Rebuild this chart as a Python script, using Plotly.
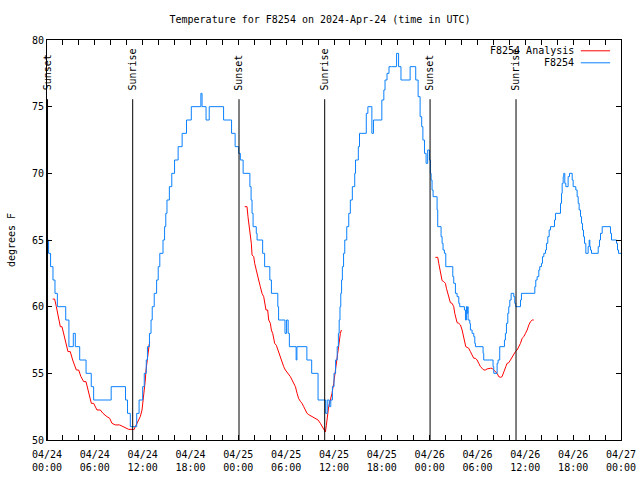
import pandas as pd
import plotly.graph_objects as go

BASE = pd.Timestamp("2024-04-24 00:00")

# Observed station temperature (hours since 04/24 00:00 UTC, deg F)
obs_hours = [
    0.00, 0.20, 0.45, 0.75, 1.00, 1.30, 2.35, 2.75, 3.30, 3.55, 4.10, 4.90, 5.55, 5.85,
    8.05, 9.85, 10.10, 10.45, 11.25, 11.55, 12.00, 12.20, 12.45, 12.60, 12.85, 13.05,
    13.20, 13.45, 13.75, 13.95, 14.15, 14.55, 14.75, 14.90, 15.05, 15.35, 15.65, 16.00,
    16.45, 16.95, 17.50, 18.10, 19.30, 19.45, 19.95, 20.35, 22.15, 23.15, 23.60,
    24.05, 24.25, 24.60, 25.45, 25.60, 25.72, 25.85, 26.25, 26.35, 27.05, 27.30, 27.95,
    28.15, 28.95, 29.05, 29.85, 30.05, 30.25, 30.40, 31.25, 31.35, 32.60, 33.20, 34.00,
    34.95, 35.15, 35.40, 35.60, 35.80, 36.00, 36.20, 36.40, 36.55, 36.65,
    36.75, 36.85, 36.95, 37.05, 37.20, 37.35, 37.60, 37.85, 38.05, 38.30, 38.60, 38.70,
    39.05, 39.20, 40.05, 40.25, 40.75, 40.95, 41.25, 42.00, 42.25, 42.40, 42.65, 42.90,
    43.20, 43.85, 44.10, 44.40, 44.75, 45.55, 46.25, 46.55, 46.80, 47.00, 47.15, 47.35,
    47.55, 47.75, 47.97, 48.09, 48.18, 48.30, 48.43, 48.93, 49.01, 49.43, 49.56, 49.68,
    49.85, 50.02, 50.90, 51.02, 51.23, 51.44, 51.65, 51.77, 52.36, 52.49, 52.61, 52.69,
    52.78, 52.82, 53.03, 53.11, 53.32, 53.53, 53.66, 53.74, 54.70, 54.78, 55.95, 56.04,
    56.46, 56.58, 56.79, 57.38, 57.50, 57.63, 57.80, 57.92, 58.05, 58.22, 58.55, 58.68,
    58.80, 59.39, 59.51, 61.19, 61.31, 61.48, 61.69, 61.81, 62.02, 62.15, 62.32, 62.53,
    62.65, 62.82, 62.99, 63.15, 63.66, 63.78, 64.41, 64.54, 64.62, 64.75, 64.82, 64.95,
    65.08, 65.37, 65.54, 65.88, 66.00, 66.33, 66.50, 66.63, 66.75, 66.92, 67.05, 67.17,
    67.30, 67.42, 67.59, 67.88, 68.01, 68.09, 68.17, 68.30, 69.14, 69.30, 69.43, 69.64,
    70.68, 70.81, 71.44, 71.56, 71.69, 72.00,
]
obs_temps = [
    65, 64, 63, 62, 61, 60, 59, 57, 58, 57, 56, 55, 54, 53,
    54, 53, 52, 51, 52, 53, 54, 55, 56, 57, 58, 59,
    60, 61, 62, 63, 64, 65, 66, 67, 68, 69, 70, 71,
    72, 73, 74, 75, 76, 75, 74, 75, 74, 73, 72,
    71.5, 71, 70, 69, 68, 67, 66, 65.5, 65, 64, 63, 62,
    61, 60, 59, 58, 59, 58, 57, 56, 57, 56, 55, 53,
    52, 53, 52.5, 53, 54, 55, 56, 57, 58, 59,
    60, 61, 62, 63, 64, 65, 66, 67, 68, 69, 70, 71,
    72, 73, 74.5, 75, 73, 74, 74, 75.5, 76.25, 77, 77.5, 78,
    78, 79, 78, 77, 77, 78, 77, 75.75, 74.25, 73.5, 72.5, 71.5,
    70.75, 71.75, 71, 70, 69.5, 68.75, 68.25, 67.25, 66, 65.25, 64.75, 64.25,
    64, 63, 62.25, 61.75, 61, 60.75, 60.25, 60, 59.75, 59, 60, 59.5,
    60, 59, 58.75, 58.25, 58, 57.75, 57.25, 57, 56.5, 56, 55.5, 55,
    55.75, 56, 57, 57.5, 58, 58.75, 59.5, 60, 60.5, 61, 60.75, 60.25,
    60, 60.5, 61, 61.5, 62, 62.25, 62.75, 63, 63.25, 63.75, 64, 64.25,
    64.75, 65.25, 65.75, 66, 66.5, 67, 67.75, 68.5, 69.25, 69.75, 70, 69.25,
    69, 69.75, 70, 69.5, 69, 68.75, 68.25, 67.75, 67.25, 66.75, 66.25, 65.75,
    65.25, 64.75, 64, 64.5, 65, 64.5, 64.25, 64, 64.5, 65, 65.5, 66,
    65.5, 65, 64.75, 64.25, 64, 64,
]

# Analysis temperature (three separate runs)
ana1_hours = [0.71, 0.96, 1.17, 1.38, 1.67, 1.88, 2.09, 2.34, 2.63, 2.92, 3.22, 3.68, 3.97, 4.26,
              4.60, 4.89, 5.22, 5.56, 5.85, 6.27, 6.69, 7.02, 7.52, 7.86, 8.15, 8.57, 9.11, 9.41,
              9.82, 10.24, 10.79, 10.87, 11.08, 11.37, 11.70, 11.92, 12.08, 12.20, 12.33, 12.42,
              12.55, 12.67, 12.83, 12.90]
ana1_temps = [60.57, 60.57, 60.0, 59.25, 58.5, 58.5, 58.0, 57.25, 56.63, 56.63, 56.0, 55.25, 55.25, 54.75,
              54.38, 54.38, 53.63, 52.75, 52.75, 52.25, 52.25, 52.0, 51.75, 51.63, 51.25, 51.13, 51.13, 51.05,
              50.95, 50.8, 50.8, 50.75, 51.0, 51.38, 51.75, 52.25, 53.0, 53.75, 54.5, 55.25,
              56.0, 56.5, 57.2, 57.3]
ana2_hours = [24.80, 25.09, 25.21, 25.38, 25.50, 25.63, 25.72, 25.93, 26.05, 26.22, 26.39, 26.55, 26.76,
              26.97, 27.18, 27.31, 27.47, 27.68, 27.81, 28.02, 28.14, 28.31, 28.44, 28.56, 28.77, 28.98,
              29.19, 29.40, 29.69, 29.90, 30.24, 30.53, 30.74, 30.95, 31.16, 31.37, 31.57, 31.78, 31.99,
              32.20, 32.41, 32.62, 32.83, 33.25, 33.67, 34.00, 34.29, 34.50, 34.71, 34.92, 35.04, 35.17,
              35.33, 35.54, 35.75, 35.96, 36.17, 36.30, 36.51, 36.67, 36.80, 36.93]
ana2_temps = [67.5, 67.5, 66.75, 66.0, 65.25, 64.75, 63.88, 63.75, 63.25, 62.75, 62.25, 62.0, 61.5,
              61.0, 60.75, 60.25, 59.75, 59.75, 59.0, 58.75, 58.25, 58.0, 57.5, 57.25, 57.1, 56.75,
              56.25, 56.0, 55.5, 55.25, 55.0, 54.75, 54.5, 54.25, 54.0, 53.5, 53.1, 52.9, 52.75,
              52.5, 52.25, 52.0, 51.9, 51.75, 51.6, 51.5, 51.25, 51.0, 50.75, 50.6, 51.1, 51.75,
              52.5, 53.0, 53.5, 54.25, 55.25, 55.75, 56.75, 57.5, 58.0, 58.25]
ana3_hours = [48.72, 49.01, 49.14, 49.26, 49.43, 49.56, 49.77, 49.98, 50.10, 50.27, 50.44, 50.60, 50.81,
              51.02, 51.15, 51.27, 51.44, 51.65, 51.86, 52.07, 52.20, 52.36, 52.53, 52.69, 52.90, 53.11,
              53.32, 53.53, 53.74, 53.95, 54.16, 54.37, 54.58, 54.78, 54.99, 55.20, 55.62, 55.83, 56.04,
              56.25, 56.46, 56.67, 56.88, 57.08, 57.21, 57.38, 57.55, 57.71, 57.92, 58.13, 58.34, 58.55,
              58.76, 58.97, 59.18, 59.39, 59.60, 59.81, 60.02, 60.23, 60.44, 60.65, 60.86, 61.06]
ana3_temps = [63.7, 63.7, 63.25, 62.88, 62.38, 61.95, 61.88, 61.75, 61.38, 61.0, 60.63, 60.3, 60.25,
              60.0, 59.5, 59.13, 58.8, 58.75, 58.63, 58.25, 57.88, 57.5, 57.0, 56.95, 56.88, 56.63,
              56.38, 56.13, 56.13, 56.0, 55.75, 55.5, 55.38, 55.25, 55.25, 55.33, 55.38, 55.38, 55.25,
              55.13, 55.0, 54.75, 54.7, 54.75, 55.0, 55.25, 55.5, 55.75, 55.8, 56.0, 56.25, 56.5,
              56.63, 56.75, 57.0, 57.25, 57.63, 57.75, 58.0, 58.25, 58.63, 58.88, 59.0, 59.0]

sun_times = ["2024-04-24 00:04", "2024-04-24 10:45", "2024-04-25 00:05",
             "2024-04-25 10:50", "2024-04-26 00:03", "2024-04-26 10:50"]
sun_labels = ["Sunset", "Sunrise", "Sunset", "Sunrise", "Sunset", "Sunrise"]

x_tick_vals = ["2024-04-24 00:00", "2024-04-24 06:00", "2024-04-24 12:00", "2024-04-24 18:00",
               "2024-04-25 00:00", "2024-04-25 06:00", "2024-04-25 12:00", "2024-04-25 18:00",
               "2024-04-26 00:00", "2024-04-26 06:00", "2024-04-26 12:00", "2024-04-26 18:00",
               "2024-04-27 00:00"]
x_tick_text = ["04/24<br>00:00", "04/24<br>06:00", "04/24<br>12:00", "04/24<br>18:00",
               "04/25<br>00:00", "04/25<br>06:00", "04/25<br>12:00", "04/25<br>18:00",
               "04/26<br>00:00", "04/26<br>06:00", "04/26<br>12:00", "04/26<br>18:00",
               "04/27<br>00:00"]

def to_time(hours):
    return [BASE + pd.Timedelta(hours=h) if h is not None else None for h in hours]

ana_hours = ana1_hours + [None] + ana2_hours + [None] + ana3_hours
ana_temps = ana1_temps + [None] + ana2_temps + [None] + ana3_temps

FONT = "DejaVu Sans Mono"
RED = "#ff0000"
BLUE = "#0a80ff"

fig = go.Figure()
fig.add_trace(go.Scatter(x=to_time(ana_hours), y=ana_temps, mode="lines",
                         line=dict(color=RED, width=1), name="F8254 Analysis",
                         connectgaps=False, showlegend=False))
fig.add_trace(go.Scatter(x=to_time(obs_hours), y=obs_temps, mode="lines",
                         line=dict(color=BLUE, width=1, shape="hv"), name="F8254",
                         showlegend=False))

shapes = []
annotations = []
for t, lab in zip(sun_times, sun_labels):
    shapes.append(dict(type="line", xref="x", yref="paper", x0=t, x1=t, y0=0, y1=0.852,
                       line=dict(color="black", width=1)))
    annotations.append(dict(x=t, xref="x", y=0.868, yref="paper", text=lab, showarrow=False,
                            textangle=-90, xanchor="center", yanchor="bottom",
                            font=dict(family=FONT, size=10, color="black")))

# legend (text left of sample, gnuplot style)
legend_items = [("F8254 Analysis", RED, 0.973), ("F8254", BLUE, 0.943)]
for name, col, yy in legend_items:
    annotations.append(dict(x=0.922, xref="paper", y=yy, yref="paper", text=name, showarrow=False,
                            xanchor="right", yanchor="middle",
                            font=dict(family=FONT, size=10, color="black")))
    shapes.append(dict(type="line", xref="paper", yref="paper", x0=0.93, x1=0.981, y0=yy, y1=yy,
                       line=dict(color=col, width=1)))

fig.update_layout(
    width=640, height=480,
    margin=dict(l=47, r=19, t=40, b=40, autoexpand=False),
    paper_bgcolor="white", plot_bgcolor="white",
    font=dict(family=FONT, size=10, color="black"),
    title=dict(text="Temperature for F8254 on 2024-Apr-24 (time in UTC)", x=0.5, xanchor="center",
               y=0.96, yanchor="middle", font=dict(family=FONT, size=10, color="black")),
    shapes=shapes, annotations=annotations,
    showlegend=False,
)
fig.update_xaxes(type="date", range=[x_tick_vals[0], x_tick_vals[-1]], automargin=False,
                 tickmode="array", tickvals=x_tick_vals, ticktext=x_tick_text,
                 ticks="inside", ticklen=5, tickcolor="black", showline=True, linecolor="black",
                 linewidth=1, mirror="ticks", showgrid=False, zeroline=False,
                 ticklabelstandoff=5,
                 minor=dict(dtick=7200000, tick0="2024-04-24", ticks="inside", ticklen=5,
                            tickcolor="black", showgrid=False),
                 tickfont=dict(family=FONT, size=10, color="black"))
fig.update_yaxes(range=[50, 80], dtick=5, tick0=50, ticks="inside", ticklen=5, tickcolor="black",
                 showline=True, linecolor="black", linewidth=1, mirror="ticks", showgrid=False,
                 zeroline=False, automargin=False,
                 title=dict(text="degrees F", standoff=14,
                            font=dict(family=FONT, size=10, color="black")),
                 tickfont=dict(family=FONT, size=10, color="black"))

fig.write_html("out.html")
